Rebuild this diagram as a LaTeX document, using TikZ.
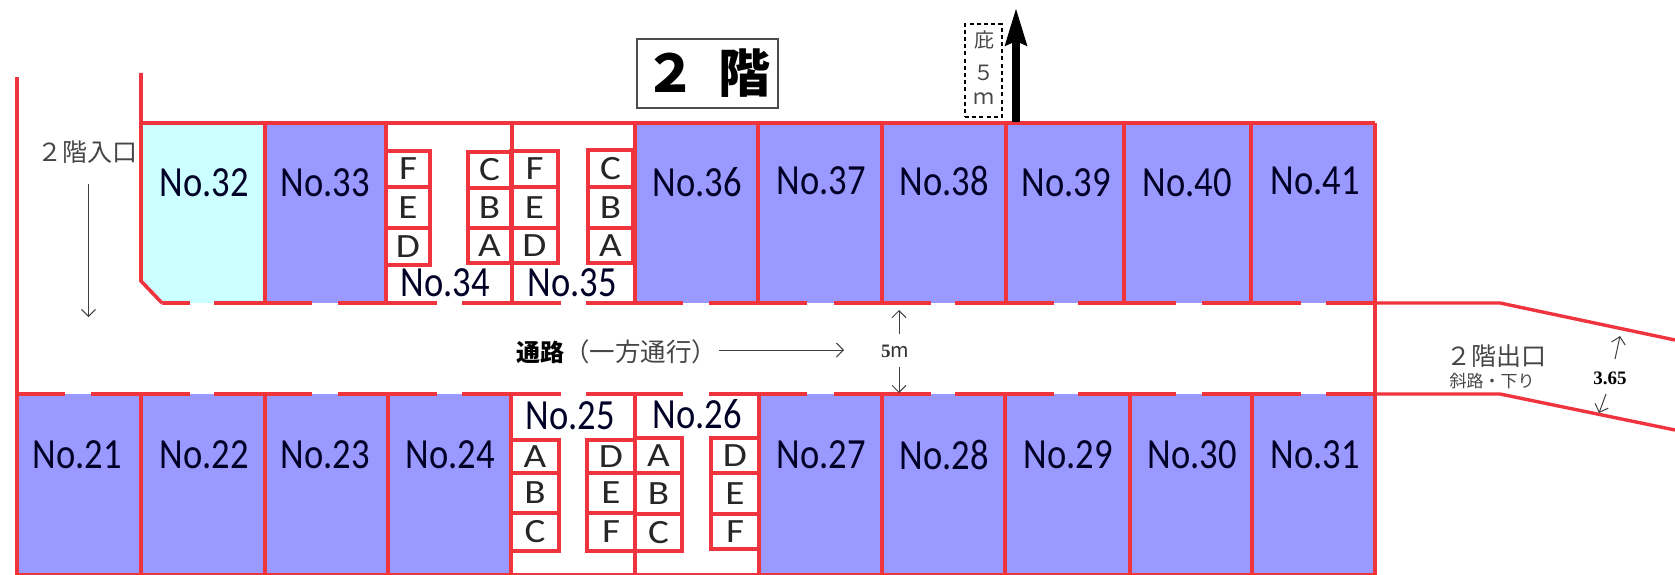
\documentclass[tikz,border=0pt]{standalone}
\usepackage{fontspec}
\usepackage{graphicx}
\usetikzlibrary{arrows.meta}
\setmainfont{Carlito}
\newfontfamily\jp{Noto Sans CJK JP}
\newfontfamily\serifb{Liberation Serif}
\definecolor{wall}{RGB}{240,52,62}
\definecolor{slot}{RGB}{153,153,255}
\definecolor{slotfree}{RGB}{204,255,255}
\definecolor{txtgray}{RGB}{70,70,70}
\newcommand{\notext}[1]{\scalebox{.85}[1]{\fontsize{43}{43}\selectfont No.#1}}
\tikzset{
  wallline/.style={draw=wall,line width=3.6pt},
  thinwall/.style={draw=wall,line width=3.4pt},
  cellline/.style={draw=wall,line width=3.2pt},
  lab/.style={inner sep=0pt,text=black!85!blue},
  letter/.style={inner sep=0pt,text=black!85,font=\fontsize{34}{34}\selectfont},
  note/.style={inner sep=0pt,text=txtgray,font=\jp\fontsize{25}{25}\selectfont},
  dimline/.style={draw=black!75,line width=1pt,-{Straight Barb[length=7pt,width=14pt]}},
}
\newcommand{\cell}[6]{%
  \draw[cellline] (#1,#2) rectangle (#3,#4);
  \path (#1,#2) -- (#3,#4) node[midway,letter] (#5) {\scalebox{1.15}[1]{#6}};}
\begin{document}
\begin{tikzpicture}[x=1pt,y=-1pt]
\useasboundingbox (0,0) rectangle (1675,575);
% slot fills
\fill[slotfree] (141,123) -- (265,123) -- (265,303) -- (162,303) -- (141,281) -- cycle;
\foreach \a/\b in {265/386,635/758,758/882,882/1006,1006/1124,1124/1251,1251/1375}
  \fill[slot] (\a,123) rectangle (\b,303);
\foreach \a/\b in {17/141,141/265,265/388,388/511,759/882,882/1005,1005/1130,1130/1252,1252/1375}
  \fill[slot] (\a,394) rectangle (\b,574);
% walls
\draw[wallline] (17,77) -- (17,575);
\draw[wallline] (141,73) -- (141,281) -- (162,303);
\draw[wallline] (141,123) -- (1375,123);
\draw[wallline] (1375,123) -- (1375,575);
\draw[wallline] (17,575) -- (1375,575);
\foreach \x in {265,386,512,635,758,882,1006,1124,1251}
  \draw[wallline] (\x,123) -- (\x,303);
\foreach \x in {141,265,388,511,635,759,882,1005,1130,1252}
  \draw[wallline] (\x,394) -- (\x,575);
% corridor dashes
\foreach \a/\b in {162/190,214/312,338/437,462/561,586/683,709/807,834/931,955/1054,1078/1176,1202/1301,1326/1375}
  \draw[wallline] (\a,303) -- (\b,303);
\foreach \a/\b in {17/65,91/190,214/312,338/437,462/561,586/683,709/807,834/931,955/1054,1078/1176,1202/1301,1326/1375}
  \draw[wallline] (\a,394) -- (\b,394);
% ramp
\draw[thinwall] (1375,303) -- (1500,303) -- (1675,340);
\draw[thinwall] (1375,394) -- (1500,394) -- (1675,430);
% small cells upper
\cell{386}{151}{430}{187}{c34f}{F}
\cell{386}{187}{430}{228}{c34e}{E}
\cell{386}{228}{430}{265}{c34d}{D}
\cell{468}{152}{511}{188}{c34c}{C}
\cell{468}{188}{511}{228}{c34b}{B}
\cell{468}{228}{511}{263}{c34a}{A}
\cell{511}{151}{558}{187}{c35f}{F}
\cell{511}{187}{558}{228}{c35e}{E}
\cell{511}{228}{558}{263}{c35d}{D}
\cell{588}{150}{633}{187}{c35c}{C}
\cell{588}{187}{633}{228}{c35b}{B}
\cell{588}{228}{633}{263}{c35a}{A}
% small cells lower
\cell{511}{440}{559}{473}{c25a}{A}
\cell{511}{473}{559}{513}{c25b}{B}
\cell{511}{513}{559}{551}{c25c}{C}
\cell{587}{440}{635}{473}{c25d}{D}
\cell{587}{473}{635}{513}{c25e}{E}
\cell{587}{513}{635}{551}{c25f}{F}
\cell{635}{438}{682}{473}{c26a}{A}
\cell{635}{473}{682}{514}{c26b}{B}
\cell{635}{514}{682}{551}{c26c}{C}
\cell{711}{438}{759}{473}{c26d}{D}
\cell{711}{473}{759}{514}{c26e}{E}
\cell{711}{514}{759}{549}{c26f}{F}
% slot labels
\foreach \n/\x/\y in {32/204/183,33/325/183,34/445/283,35/572/283,36/697/182,37/821/181,38/944/181,39/1066/183,40/1187/183,41/1315/181,
  21/77/455,22/204/455,23/325/455,24/450/455,25/570/416,26/697/414,27/821/455,28/944/455,29/1068/455,30/1192/455,31/1315/455}
  \node[lab] (n\n) at (\x,\y) {\notext{\n}};
% title
\node[draw=black!70,line width=1.2pt,fill=white,minimum width=141pt,minimum height=69pt,inner sep=0pt,
  font=\jp\bfseries\fontsize{52}{52}\selectfont] (title) at (707.5,73.5) {２\hspace*{22pt}階};
% awning
\node[draw=black,dash pattern=on 4pt off 3.2pt,line width=1.6pt,minimum width=37pt,minimum height=93pt,inner sep=0pt] (awning) at (983.5,70.5) {};
\node[inner sep=0pt,text=txtgray,font=\jp\fontsize{20}{20}\selectfont] (awn1) at (984,40) {庇};
\node[inner sep=0pt,text=txtgray,font=\jp\fontsize{21}{21}\selectfont] (awn2) at (984,73) {５};
\node[inner sep=0pt,text=txtgray,font=\jp\fontsize{21}{21}\selectfont] (awn3) at (984,99) {ｍ};
\coordinate (awnbase) at (1016,122);
\coordinate (awntip) at (1016,8);
\draw[line width=7.5pt,-{Stealth[length=37pt,width=21pt,inset=4pt]}] (awnbase) -- (awntip);
% entrance
\node[note] (entry) at (87,152) {２階入口};
\coordinate (ea) at (88.5,184);
\coordinate (eb) at (88.5,317);
\draw[dimline] (ea) -- (eb);
% corridor
\node[inner sep=0pt,anchor=west,text=txtgray,font=\jp\fontsize{25.5}{25.5}\selectfont] (corr) at (516,352) {\textcolor{black}{\bfseries\fontsize{24}{24}\selectfont 通路}（一方通行）};
\coordinate (ca) at (719,350);
\coordinate (cb) at (844,350);
\draw[dimline] (ca) -- (cb);
% width 5 m
\node[inner sep=0pt,text=black!80] (wd) at (895,351) {{\serifb\bfseries\fontsize{19}{19}\selectfont 5}{\jp\fontsize{20}{20}\selectfont m}};
\coordinate (ua) at (899,334);
\coordinate (ub) at (899,310);
\coordinate (da) at (899,367);
\coordinate (db) at (899,393);
\draw[dimline] (ua) -- (ub);
\draw[dimline] (da) -- (db);
% exit
\node[note] (exit) at (1496,356) {２階出口};
\node[inner sep=0pt,text=txtgray,font=\jp\fontsize{17}{17}\selectfont] (exit2) at (1492,381) {斜路・下り};
\node[inner sep=0pt,text=black,font=\serifb\bfseries\fontsize{19}{19}\selectfont] (w365) at (1610,378) {3.65};
\coordinate (ra) at (1615,359);
\coordinate (rb) at (1620,336);
\coordinate (sa) at (1606,394);
\coordinate (sb) at (1599,413);
\draw[dimline] (ra) -- (rb);
\draw[dimline] (sa) -- (sb);
\end{tikzpicture}
\end{document}
